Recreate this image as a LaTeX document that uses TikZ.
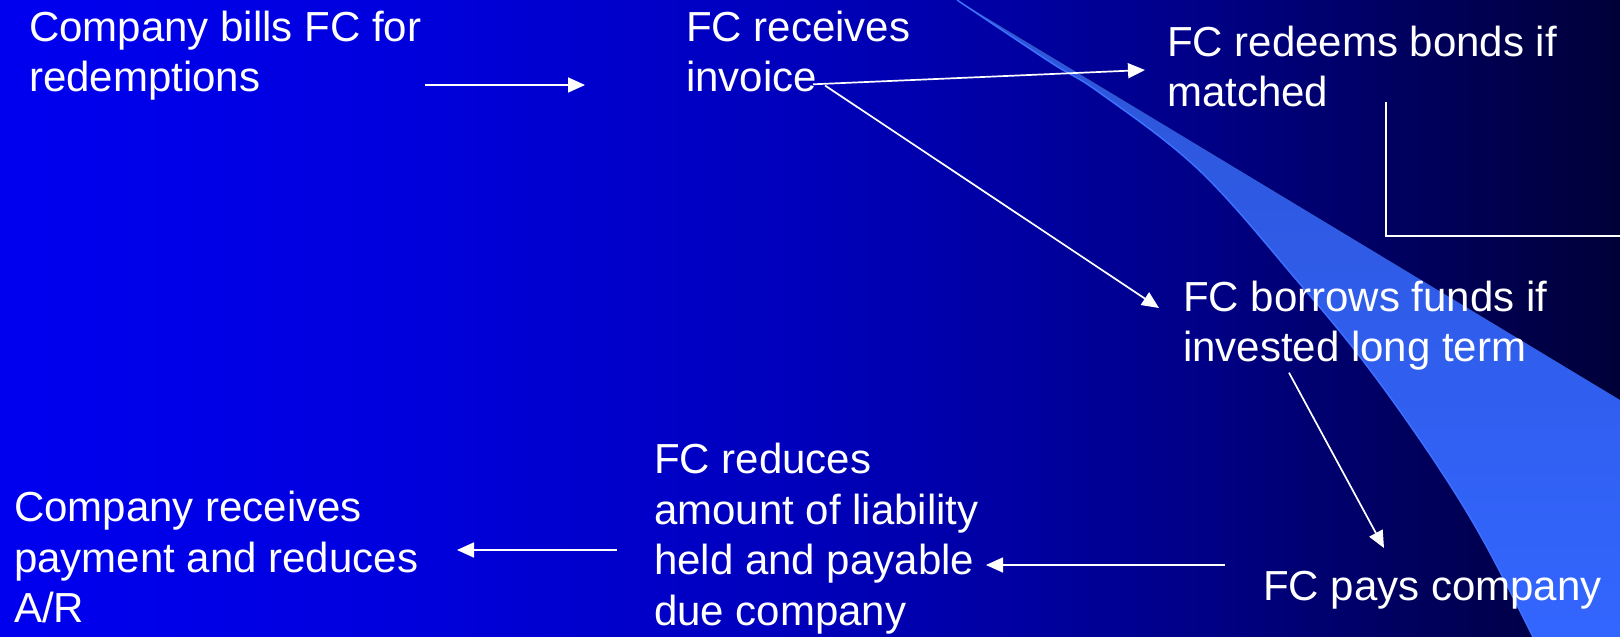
\documentclass[tikz,border=0pt]{standalone}
\usepackage{fontspec}
\setmainfont{Liberation Sans}
\usetikzlibrary{arrows.meta,calc}

\pgfdeclarehorizontalshading{slidebg}{100bp}{rgb(0bp)=(0,0,0.94); rgb(25bp)=(0,0,0.94); rgb(37bp)=(0,0,0.87); rgb(50bp)=(0,0,0.73); rgb(56bp)=(0,0,0.64); rgb(62bp)=(0,0,0.53); rgb(68bp)=(0,0,0.38); rgb(75bp)=(0,0,0.22); rgb(100bp)=(0,0,0.22)}

\definecolor{swooshtop}{RGB}{44,84,214}
\definecolor{swooshbot}{RGB}{51,102,255}
\definecolor{swooshedge}{RGB}{62,112,255}

\begin{document}
\begin{tikzpicture}[x=1pt, y=-1pt, >={Triangle[length=17pt,width=15pt]},
    txt/.style={anchor=base west, inner sep=0pt, align=left, text=white, font=\fontsize{42}{50.5}\selectfont},
    flow/.style={->, draw=white, line width=1.7pt}]

    % slide background
    \useasboundingbox (0,0) rectangle (1620,637);
    \path[shading=slidebg] (0,0) rectangle (1620,637);
    \fill[top color=swooshtop, bottom color=swooshbot] (957,0) -- (1620,400) -- (1620,637)
        -- plot[smooth, tension=0.6] coordinates {(1533,637) (1483,540) (1433,459) (1367,366) (1300,284) (1200,171) (1100,93) (1050,62) (957,0)} -- cycle;
    \draw[swooshedge, line width=1.5pt] plot[smooth, tension=0.6] coordinates {(1533,637) (1483,540) (1433,459) (1367,366) (1300,284) (1200,171) (1100,93) (1050,62) (957,0)};

    % nodes sit on the baseline of their last line
    \node[txt] (bills)    at (29,91.7)   {Company bills FC for\\redemptions};
    \node[txt] (receives) at (686,91.7)  {FC receives\\invoice};
    \node[txt] (redeems)  at (1167,106.7) {FC redeems bonds if\\matched};
    \node[txt] (borrows)  at (1183,361.7) {FC borrows funds if\\invested long term};
    \node[txt] (pays)     at (1263,600.7) {FC pays company};
    \node[txt] (reduces)  at (654,625.2) {FC reduces\\amount of liability\\held and payable\\due company};
    \node[txt] (getspaid) at (14,622.7)  {Company receives\\payment and reduces\\A/R};

    \coordinate (bills out)     at (425,85);
    \coordinate (receives in)   at (585,85);
    \coordinate (invoice out)   at (813,84.3);
    \coordinate (invoice diag)  at (825,85.5);
    \coordinate (redeems in)    at (1145,70);
    \coordinate (borrows in)    at (1159,308);
    \coordinate (matched out)   at (1386,101.7);
    \coordinate (off slide)     at (1620,236);
    \coordinate (borrows out)   at (1289,372.7);
    \coordinate (pays in)       at (1384,548);
    \coordinate (pays out)      at (1225,565);
    \coordinate (reduces in)    at (986,565);
    \coordinate (reduces out)   at (617,550);
    \coordinate (getspaid in)   at (457,550);

    \draw[flow] (bills out) -- (receives in);
    \draw[flow] (invoice out) -- (redeems in);
    \draw[flow] (invoice diag) -- (borrows in);
    \draw[white, line width=1.7pt] (matched out) |- (off slide);
    \draw[flow] (borrows out) -- (pays in);
    \draw[flow] (pays out) -- (reduces in);
    \draw[flow] (reduces out) -- (getspaid in);

\end{tikzpicture}
\end{document}
